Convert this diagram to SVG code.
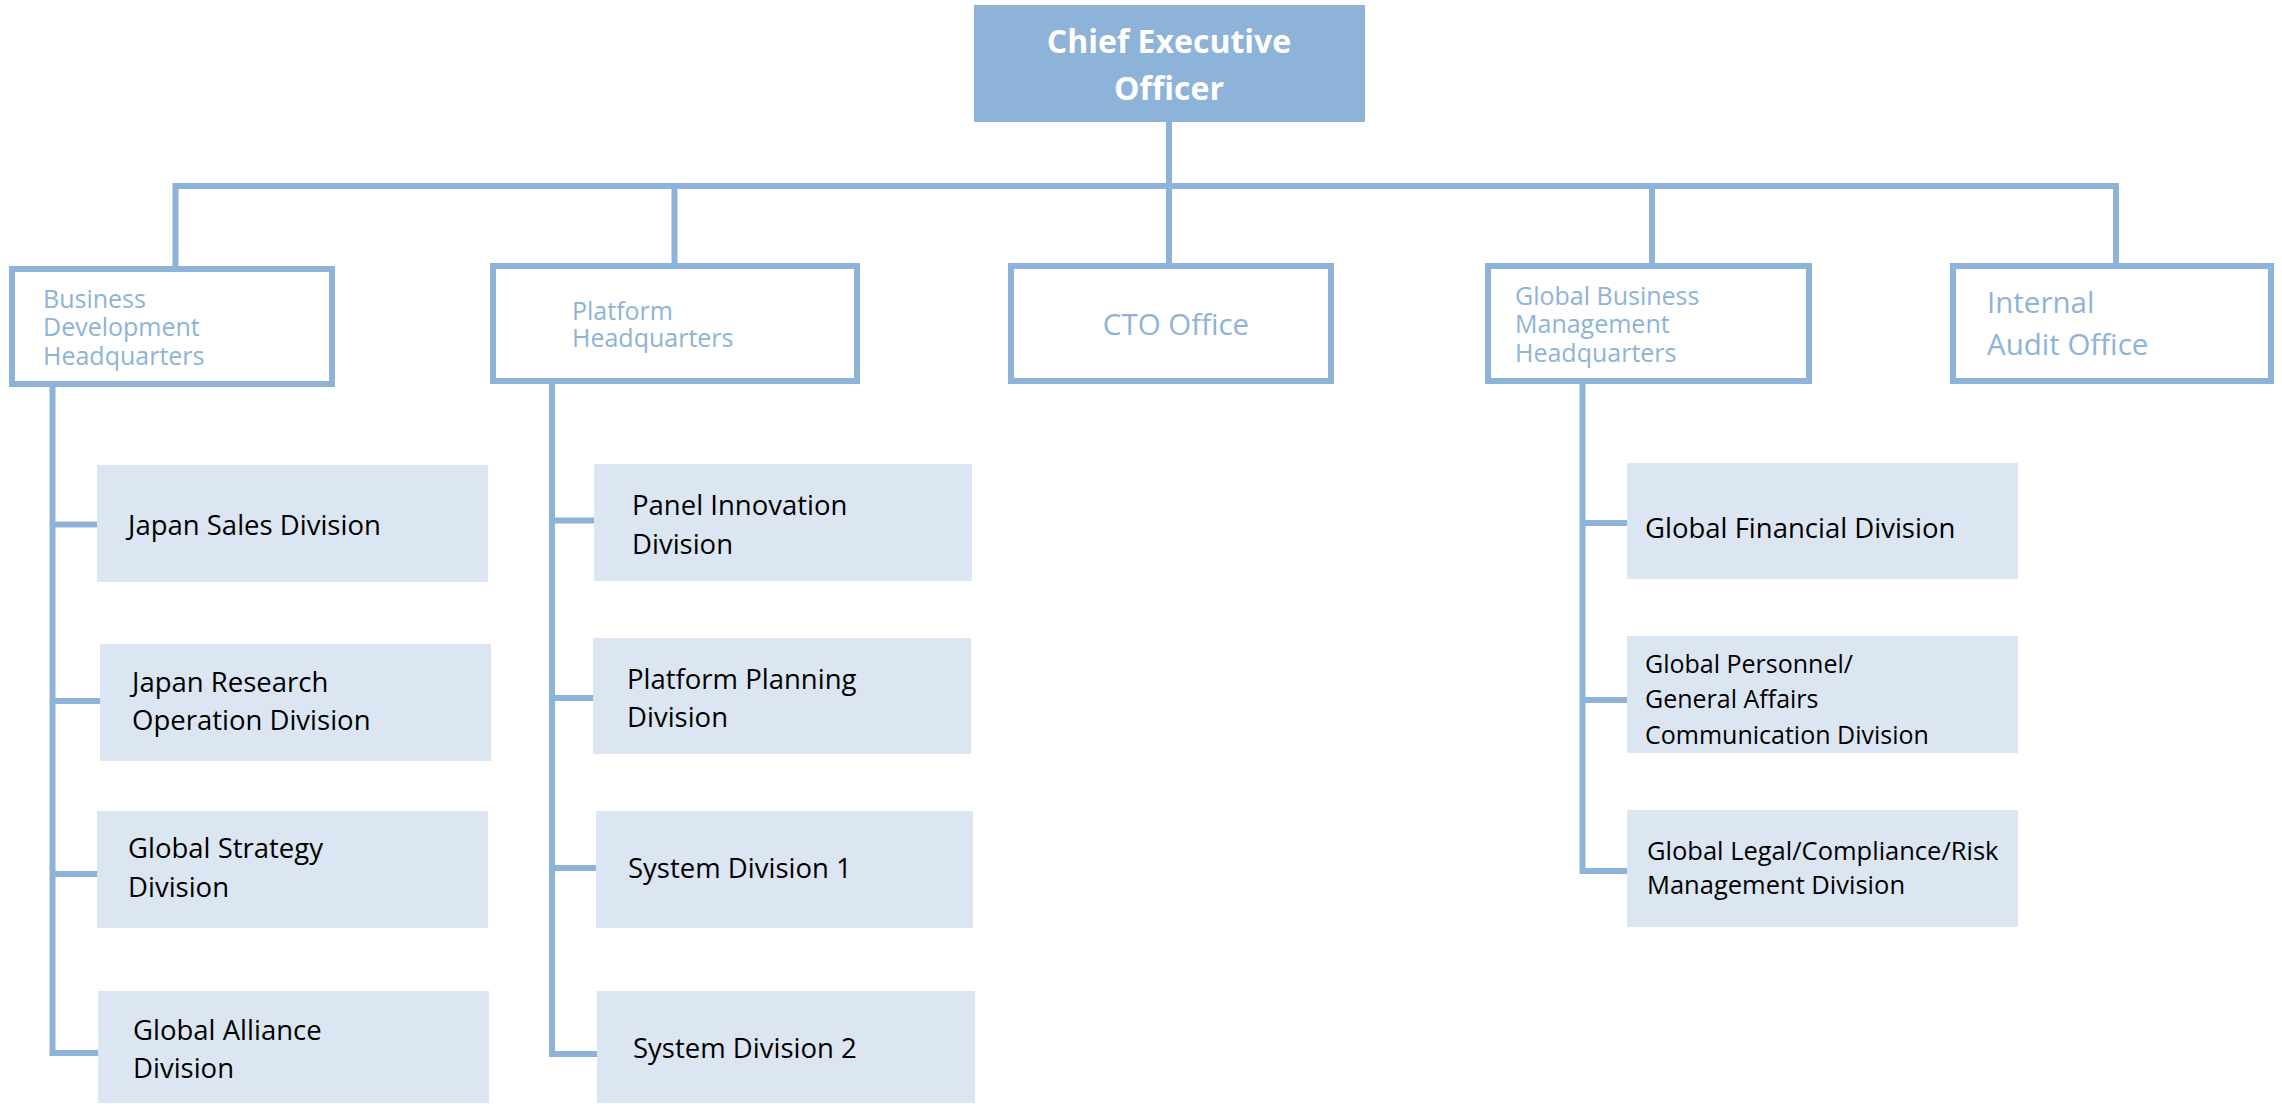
<svg xmlns="http://www.w3.org/2000/svg" width="2282" height="1104" viewBox="0 0 2282 1104">
  <style>
    .wire { fill: none; stroke: #8EB3D8; stroke-width: 6; stroke-linejoin: miter; stroke-linecap: butt; }
    .hq { fill: #FFFFFF; stroke: #8EB3D8; stroke-width: 6; }
    .div { fill: #DCE6F2; stroke: none; }
    .hqtext { font-family: "Open Sans", "Noto Sans", sans-serif; font-size: 25px; fill: #8EB3D8; }
    .hqtext.big { font-size: 29.5px; }
    .divtext { font-family: "Open Sans", "Noto Sans", sans-serif; font-size: 27.5px; fill: #000000; }
    .divtext.small { font-size: 25px; }
    .divtext.mid { font-size: 25.5px; }
    .ceotext { font-family: "Open Sans", "Noto Sans", sans-serif; font-weight: bold; font-size: 32px; fill: #FFFFFF; text-anchor: middle; }
  </style>
  <rect width="2282" height="1104" fill="#FFFFFF"/>

  <!-- connectors -->
  <g id="connectors" class="wire">
    <path d="M1169,122 V186"/>
    <path d="M175.5,266 V186 H2116 V266"/>
    <path d="M674.5,186 V266"/>
    <path d="M1169,186 V266"/>
    <path d="M1652,186 V266"/>
    <!-- Business Development branch -->
    <path d="M52.5,387 V1053 H98"/>
    <path d="M52.5,524.5 H97"/>
    <path d="M52.5,701 H100"/>
    <path d="M52.5,874 H97"/>
    <!-- Platform branch -->
    <path d="M552,384 V1054 H597"/>
    <path d="M552,520.5 H594"/>
    <path d="M552,698 H593"/>
    <path d="M552,868 H596"/>
    <!-- Global Business Management branch -->
    <path d="M1582.5,384 V871 H1627"/>
    <path d="M1582.5,523 H1627"/>
    <path d="M1582.5,700 H1627"/>
  </g>

  <!-- top -->
  <g id="ceo">
    <rect x="974" y="5" width="391" height="117" fill="#8EB3D8"/>
    <text class="ceotext" x="1169" y="53">Chief Executive</text>
    <text class="ceotext" x="1169" y="100">Officer</text>
  </g>

  <!-- headquarters row -->
  <g id="bd-hq">
    <rect class="hq" x="12" y="269" width="320" height="115"/>
    <text class="hqtext" x="43" y="308">Business</text>
    <text class="hqtext" x="43" y="336">Development</text>
    <text class="hqtext" x="43" y="365">Headquarters</text>
  </g>
  <g id="platform-hq">
    <rect class="hq" x="493" y="266" width="364" height="115"/>
    <text class="hqtext" x="572" y="320">Platform</text>
    <text class="hqtext" x="572" y="347">Headquarters</text>
  </g>
  <g id="cto-office">
    <rect class="hq" x="1011" y="266" width="320" height="115"/>
    <text class="hqtext big" x="1176" y="335" text-anchor="middle">CTO Office</text>
  </g>
  <g id="gbm-hq">
    <rect class="hq" x="1488" y="266" width="321" height="115"/>
    <text class="hqtext" x="1515" y="305">Global Business</text>
    <text class="hqtext" x="1515" y="333">Management</text>
    <text class="hqtext" x="1515" y="362">Headquarters</text>
  </g>
  <g id="internal-audit">
    <rect class="hq" x="1953" y="266" width="318" height="115"/>
    <text class="hqtext big" x="1987" y="313">Internal</text>
    <text class="hqtext big" x="1987" y="355">Audit Office</text>
  </g>

  <!-- Business Development divisions -->
  <g id="japan-sales">
    <rect class="div" x="97" y="465" width="391" height="117"/>
    <text class="divtext" x="128" y="535">Japan Sales Division</text>
  </g>
  <g id="japan-research">
    <rect class="div" x="100" y="644" width="391" height="117"/>
    <text class="divtext" x="132" y="692">Japan Research</text>
    <text class="divtext" x="132" y="730">Operation Division</text>
  </g>
  <g id="global-strategy">
    <rect class="div" x="97" y="811" width="391" height="117"/>
    <text class="divtext" x="128" y="858">Global Strategy</text>
    <text class="divtext" x="128" y="897">Division</text>
  </g>
  <g id="global-alliance">
    <rect class="div" x="98" y="991" width="391" height="112"/>
    <text class="divtext" x="133" y="1040">Global Alliance</text>
    <text class="divtext" x="133" y="1078">Division</text>
  </g>

  <!-- Platform divisions -->
  <g id="panel-innovation">
    <rect class="div" x="594" y="464" width="378" height="117"/>
    <text class="divtext" x="632" y="515">Panel Innovation</text>
    <text class="divtext" x="632" y="554">Division</text>
  </g>
  <g id="platform-planning">
    <rect class="div" x="593" y="638" width="378" height="116"/>
    <text class="divtext" x="627" y="689">Platform Planning</text>
    <text class="divtext" x="627" y="727">Division</text>
  </g>
  <g id="system-1">
    <rect class="div" x="596" y="811" width="377" height="117"/>
    <text class="divtext" x="628" y="878">System Division 1</text>
  </g>
  <g id="system-2">
    <rect class="div" x="597" y="991" width="378" height="112"/>
    <text class="divtext" x="633" y="1058">System Division 2</text>
  </g>

  <!-- Global Business Management divisions -->
  <g id="global-financial">
    <rect class="div" x="1627" y="463" width="391" height="116"/>
    <text class="divtext" x="1645" y="538">Global Financial Division</text>
  </g>
  <g id="global-personnel">
    <rect class="div" x="1627" y="636" width="391" height="117"/>
    <text class="divtext small" x="1645" y="673">Global Personnel/</text>
    <text class="divtext small" x="1645" y="708">General Affairs</text>
    <text class="divtext small" x="1645" y="744">Communication Division</text>
  </g>
  <g id="global-legal">
    <rect class="div" x="1627" y="810" width="391" height="117"/>
    <text class="divtext mid" x="1647" y="860">Global Legal/Compliance/Risk</text>
    <text class="divtext mid" x="1647" y="894">Management Division</text>
  </g>
</svg>
